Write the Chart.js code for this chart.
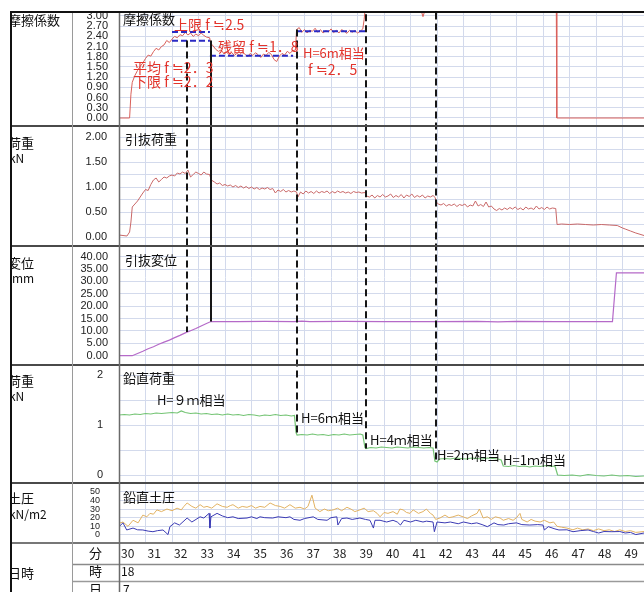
<!DOCTYPE html>
<html><head><meta charset="utf-8">
<script src="https://cdn.jsdelivr.net/npm/chart.js@4.4.1/dist/chart.umd.min.js"></script>
<style>
html,body{margin:0;padding:0;background:#fff;overflow:hidden;}
#wrap{position:relative;width:644px;height:592px;overflow:hidden;font-family:'Noto Sans CJK JP',sans-serif;color:#111;}
#c{position:absolute;left:0;top:0;}
.lbl{position:absolute;white-space:nowrap;font-size:13px;line-height:16px;}
.lat{font-size:12px;}
#col1{position:absolute;left:12px;top:12px;width:60px;height:580px;overflow:hidden;}
</style></head>
<body><div id="wrap"><canvas id="c" width="644" height="592"></canvas>
<div id="col1">
 <div class="lbl" style="left:-4px;top:0px">摩擦係数</div>
 <div class="lbl" style="left:-4px;top:123px">荷重</div>
 <div class="lbl lat" style="left:-3px;top:138px">kN</div>
 <div class="lbl" style="left:-4px;top:243px">変位</div>
 <div class="lbl lat" style="left:0px;top:258px">mm</div>
 <div class="lbl" style="left:-4px;top:361px">荷重</div>
 <div class="lbl lat" style="left:-3px;top:376px">kN</div>
 <div class="lbl" style="left:-4px;top:478px">土圧</div>
 <div class="lbl lat" style="left:-3px;top:494px">kN/m2</div>
 <div class="lbl" style="left:-4px;top:553px">日時</div>
</div>
<div class="lbl" style="left:89px;top:545px">分</div>
<div class="lbl" style="left:89px;top:563px">時</div>
<div class="lbl" style="left:89px;top:581px">日</div>
<div class="lbl lat" style="left:121px;top:563px">18</div>
<div class="lbl lat" style="left:123px;top:581px">7</div>
<div class="lbl" style="left:123px;top:11px">摩擦係数</div>
<div class="lbl" style="left:125px;top:131px">引抜荷重</div>
<div class="lbl" style="left:125px;top:252px">引抜変位</div>
<div class="lbl" style="left:123px;top:370px">鉛直荷重</div>
<div class="lbl" style="left:123px;top:489px">鉛直土圧</div>
</div>
<script>
// ---------- data (minute, value) ----------
const minuteLabels = [30,31,32,33,34,35,36,37,38,39,40,41,42,43,44,45,46,47,48,49];
const fricTicks = [0,0.3,0.6,0.9,1.2,1.5,1.8,2.1,2.4,2.7,3.0];
const loadTicks = [0,0.25,0.5,0.75,1,1.25,1.5,1.75,2];
const dispTicks = [0,5,10,15,20,25,30,35,40];
const vertTicks = [0,0.5,1,1.5,2];
const soilTicks = [0,10,20,30,40,50];

const friction = [[30.0,0],[30.4,0],[30.45,0.7],[30.5,1.05],[30.6,1.25],[30.7,1.4],[30.8,1.52],[30.9,1.62],[31.0,1.75],[31.1,1.85],[31.2,1.82],[31.3,1.95],[31.4,2.05],[31.5,2.0],[31.6,2.1],[31.7,2.15],[31.8,2.28],[31.9,2.22],[32.0,2.32],[32.1,2.4],[32.2,2.36],[32.3,2.45],[32.4,2.42],[32.5,2.52],[32.6,2.44],[32.7,2.5],[32.8,2.4],[32.9,2.47],[33.0,2.42],[33.1,2.5],[33.2,2.43],[33.3,2.38],[33.42,2.36],[33.46,2.2],[33.55,2.12],[33.65,2.02],[33.75,1.96],[33.85,2.0],[33.95,1.9],[34.05,1.95],[34.15,1.86],[34.25,1.93],[34.35,1.84],[34.45,1.9],[34.55,1.85],[34.65,1.95],[34.75,1.88],[34.85,1.8],[34.95,1.9],[35.05,1.84],[35.15,1.92],[35.25,1.86],[35.35,1.78],[35.45,1.88],[35.55,1.84],[35.65,1.93],[35.75,1.87],[35.85,1.72],[35.95,1.66],[36.05,1.82],[36.15,1.9],[36.25,1.85],[36.35,1.96],[36.45,1.9],[36.55,1.98],[36.66,2.0],[36.7,2.6],[36.8,2.66],[36.9,2.52],[37.0,2.6],[37.1,2.5],[37.2,2.58],[37.3,2.55],[37.4,2.64],[37.5,2.52],[37.6,2.6],[37.7,2.5],[37.8,2.57],[37.9,2.53],[38.0,2.62],[38.1,2.51],[38.2,2.58],[38.3,2.5],[38.4,2.6],[38.5,2.55],[38.6,2.49],[38.7,2.58],[38.8,2.52],[38.9,2.57],[39.0,2.5],[39.1,2.55],[39.2,2.62],[39.25,2.9],[39.3,3.3],[41.35,3.3],[41.47,2.98],[41.6,3.3],[46.5,3.3],[46.52,0],[49.81,0]];

const pullLoad = [[30.0,0.04],[30.3,0.02],[30.4,0.1],[30.45,0.3],[30.5,0.6],[30.6,0.66],[30.7,0.72],[30.8,0.8],[30.9,0.88],[31.0,0.95],[31.1,0.93],[31.2,1.05],[31.3,1.14],[31.4,1.18],[31.5,1.1],[31.6,1.15],[31.7,1.2],[31.8,1.18],[31.9,1.22],[32.0,1.24],[32.1,1.22],[32.2,1.28],[32.3,1.26],[32.4,1.3],[32.5,1.27],[32.6,1.34],[32.7,1.2],[32.8,1.25],[32.9,1.3],[33.0,1.27],[33.1,1.24],[33.2,1.3],[33.3,1.26],[33.42,1.25],[33.48,1.14],[33.6,1.1],[33.7,1.06],[33.8,1.08],[33.9,1.03],[34.0,1.05],[34.1,1.02],[34.2,1.04],[34.3,1.0],[34.4,1.03],[34.5,0.99],[34.6,1.02],[34.7,0.98],[34.8,1.01],[34.9,0.97],[35.0,1.0],[35.1,0.96],[35.2,0.99],[35.3,0.95],[35.4,0.98],[35.5,0.96],[35.6,0.99],[35.7,0.95],[35.8,0.97],[35.9,0.88],[36.0,0.94],[36.1,0.91],[36.2,0.95],[36.3,0.9],[36.4,0.93],[36.5,0.9],[36.6,0.92],[36.7,0.9],[36.75,0.8],[36.85,0.9],[36.95,0.86],[37.05,0.92],[37.15,0.88],[37.25,0.91],[37.35,0.87],[37.45,0.92],[37.55,0.88],[37.65,0.91],[37.75,0.89],[37.85,0.92],[37.95,0.87],[38.05,0.91],[38.15,0.88],[38.25,0.92],[38.35,0.89],[38.45,0.91],[38.55,0.88],[38.65,0.9],[38.75,0.87],[38.85,0.91],[38.95,0.89],[39.05,0.9],[39.15,0.88],[39.28,0.89],[39.34,0.82],[39.45,0.8],[39.55,0.84],[39.65,0.78],[39.75,0.83],[39.85,0.8],[39.95,0.85],[40.05,0.8],[40.15,0.82],[40.25,0.86],[40.35,0.79],[40.45,0.83],[40.55,0.8],[40.65,0.85],[40.75,0.78],[40.85,0.84],[40.95,0.81],[41.05,0.86],[41.15,0.79],[41.25,0.83],[41.35,0.8],[41.45,0.84],[41.55,0.78],[41.65,0.82],[41.75,0.8],[41.85,0.83],[41.93,0.79],[41.97,0.7],[42.05,0.66],[42.15,0.64],[42.25,0.67],[42.35,0.62],[42.45,0.65],[42.55,0.63],[42.65,0.66],[42.75,0.61],[42.85,0.65],[42.95,0.63],[43.05,0.66],[43.15,0.6],[43.25,0.64],[43.35,0.62],[43.45,0.72],[43.55,0.62],[43.65,0.65],[43.75,0.61],[43.85,0.7],[43.95,0.6],[44.05,0.62],[44.15,0.56],[44.25,0.53],[44.35,0.57],[44.45,0.54],[44.55,0.58],[44.65,0.55],[44.75,0.59],[44.85,0.56],[44.95,0.6],[45.05,0.55],[45.15,0.58],[45.25,0.54],[45.35,0.6],[45.45,0.56],[45.55,0.58],[45.65,0.55],[45.75,0.62],[45.85,0.56],[45.95,0.59],[46.05,0.55],[46.15,0.6],[46.25,0.56],[46.35,0.58],[46.48,0.57],[46.53,0.25],[46.7,0.26],[47.0,0.25],[47.3,0.26],[47.6,0.25],[47.9,0.24],[48.2,0.25],[48.5,0.24],[48.8,0.23],[49.0,0.18],[49.1,0.16],[49.3,0.12],[49.5,0.08],[49.81,0.03]];

const pullDisp = [[30.0,0],[30.5,0],[30.7,0.9],[30.9,1.8],[31.1,2.8],[31.3,3.6],[31.5,4.6],[31.7,5.5],[31.9,6.3],[32.1,7.3],[32.3,8.2],[32.5,9.2],[32.7,10.1],[32.9,11.0],[33.1,12.0],[33.3,13.0],[33.47,13.8],[34.5,13.8],[35.5,13.9],[36.6,13.8],[36.9,14.0],[37.2,13.8],[38.5,13.9],[40.0,13.8],[42.0,13.8],[43.5,13.9],[44.3,13.7],[45.0,13.9],[46.5,13.8],[48.62,13.8],[48.77,33.5],[49.81,33.5]];

const vertLoad = [[30.0,1.2],[30.2,1.21],[30.4,1.2],[30.6,1.22],[30.8,1.21],[31.0,1.23],[31.2,1.22],[31.4,1.24],[31.6,1.23],[31.8,1.24],[32.0,1.25],[32.2,1.24],[32.35,1.28],[32.5,1.25],[32.7,1.23],[32.9,1.24],[33.1,1.22],[33.3,1.23],[33.5,1.21],[33.7,1.22],[33.9,1.2],[34.1,1.22],[34.3,1.2],[34.5,1.21],[34.7,1.19],[34.9,1.21],[35.1,1.2],[35.3,1.18],[35.5,1.2],[35.7,1.19],[35.9,1.21],[36.1,1.19],[36.3,1.2],[36.5,1.18],[36.62,1.19],[36.68,0.85],[36.72,0.8],[36.9,0.81],[37.1,0.8],[37.3,0.82],[37.5,0.8],[37.7,0.81],[37.9,0.79],[38.1,0.81],[38.3,0.8],[38.5,0.82],[38.7,0.8],[38.9,0.81],[39.1,0.82],[39.2,0.8],[39.28,0.55],[39.32,0.53],[39.5,0.55],[39.7,0.54],[39.9,0.56],[40.1,0.55],[40.3,0.54],[40.5,0.56],[40.7,0.55],[40.9,0.54],[41.1,0.56],[41.3,0.55],[41.5,0.54],[41.7,0.55],[41.85,0.54],[41.92,0.28],[42.0,0.26],[42.1,0.32],[42.3,0.33],[42.5,0.32],[42.7,0.34],[42.9,0.33],[43.1,0.32],[43.3,0.34],[43.5,0.33],[43.7,0.32],[43.9,0.34],[44.1,0.33],[44.3,0.32],[44.42,0.3],[44.5,0.18],[44.7,0.17],[44.9,0.19],[45.1,0.17],[45.3,0.18],[45.5,0.16],[45.7,0.18],[45.9,0.17],[46.1,0.19],[46.3,0.17],[46.45,0.18],[46.55,0.0],[46.8,-0.01],[47.1,0.0],[47.4,-0.02],[47.7,0.01],[48.0,-0.01],[48.3,-0.02],[48.6,0.0],[48.9,-0.02],[49.2,-0.01],[49.5,-0.03],[49.81,-0.02]];

const soilA = [[30.0,13.5],[30.15,15],[30.34,10],[30.53,17],[30.72,14],[30.9,23],[31.05,21],[31.17,25],[31.3,24],[31.43,29],[31.6,27],[31.81,30],[32.0,28],[32.19,31],[32.35,29],[32.45,33],[32.57,37],[32.75,33],[32.9,31],[33.06,35],[33.2,32],[33.32,33],[33.5,31],[33.7,36],[33.9,33],[34.08,32],[34.2,34],[34.3,35],[34.5,31],[34.65,33],[34.83,32],[35.0,34],[35.15,31],[35.32,33],[35.5,32],[35.7,37],[35.9,34],[36.08,33],[36.25,31],[36.45,35],[36.65,31],[36.83,32],[37.0,30],[37.13,33],[37.28,46],[37.4,31],[37.58,27],[37.75,30],[37.9,28],[38.08,29],[38.25,31],[38.4,28],[38.6,32],[38.75,30],[38.9,27],[39.09,29],[39.25,31],[39.4,27],[39.6,28],[39.74,25],[39.85,21],[40.0,26],[40.15,25],[40.34,27],[40.5,24],[40.6,30],[40.72,29],[40.85,26],[40.98,25],[41.1,29],[41.3,25],[41.47,27],[41.6,30],[41.75,25],[41.85,23],[41.95,18],[42.11,19.6],[42.3,23],[42.45,20],[42.6,21],[42.8,23],[42.98,21],[43.15,19],[43.3,22],[43.51,25],[43.6,30],[43.74,19.6],[43.9,21],[44.05,18],[44.2,21],[44.38,19.6],[44.5,17],[44.7,19],[44.87,17],[45.0,20],[45.13,25],[45.2,18],[45.4,15],[45.55,18],[45.7,16],[45.89,15],[46.05,17],[46.26,14],[46.4,15],[46.53,10],[46.7,9],[46.9,8],[47.13,6],[47.3,8],[47.5,6],[47.7,7],[47.9,5],[48.1,7],[48.3,5],[48.5,6],[48.7,4],[48.9,6],[49.1,4],[49.3,5],[49.5,3],[49.81,4]];

const soilB = [[30.0,9.6],[30.15,14],[30.29,5.8],[30.53,8],[30.7,6],[30.9,5.8],[31.1,4.5],[31.28,3.8],[31.45,5],[31.66,5.8],[31.85,0.5],[31.92,9.6],[32.1,14],[32.28,11.5],[32.57,19.6],[32.75,15],[33.06,21],[33.2,19.6],[33.4,25],[33.43,8],[33.47,21],[33.7,25],[33.9,22],[34.1,20],[34.3,21],[34.5,19],[34.83,19.6],[35.0,21],[35.2,19],[35.32,21],[35.5,20],[35.8,19.6],[36.0,21],[36.3,20],[36.45,21],[36.6,18],[36.83,17],[37.0,19],[37.33,21],[37.5,18],[37.85,17],[38.0,20],[38.22,21],[38.26,11.5],[38.4,19],[38.6,19.6],[38.8,18],[39.09,19.6],[39.3,18],[39.47,17],[39.6,8],[39.66,17],[39.85,17],[40.1,15],[40.34,17],[40.5,15],[40.62,11.5],[40.75,17],[41.0,15],[41.2,17],[41.47,15],[41.6,16],[41.85,15],[41.9,3.8],[42.0,15],[42.3,14],[42.5,15],[42.8,13],[43.0,15],[43.3,13],[43.5,14],[43.7,12],[43.9,9.6],[44.15,14],[44.3,12],[44.52,11.5],[44.7,13],[45.0,14],[45.2,12],[45.5,11.5],[45.8,12],[46.0,11.5],[46.05,5.8],[46.2,9.6],[46.45,7],[46.6,5.8],[46.9,6],[47.13,3.8],[47.4,5],[47.7,5.8],[47.9,4],[48.1,2.3],[48.3,4],[48.6,3.8],[48.9,4],[49.1,2.3],[49.3,3],[49.5,0.5],[49.81,2.3]];

// blue guide levels in the friction panel
const guideUpper = [[32.0,2.53],[33.43,2.53]];
const guideMean = [[32.0,2.27],[33.43,2.27]];
const guideResidual = [[33.43,1.83],[36.57,1.83]];
const guideH6 = [[36.68,2.55],[39.32,2.55]];

// connector lines (minute, from axis/value, to axis/value)
const connectors = [
  {x:32.57, a1:'yFric', v1:2.28, a2:'yDisp', v2:9.6, dashed:true},
  {x:33.47, a1:'yFric', v1:2.28, a2:'yDisp', v2:13.8, dashed:false},
  {x:36.7, a1:'yFric', v1:2.6, a2:'yVert', v2:0.78, dashed:true},
  {x:39.32, a1:'yFric', v1:3.05, a2:'yVert', v2:0.53, dashed:true},
  {x:41.95, a1:'yFric', v1:3.1, a2:'yVert', v2:0.27, dashed:true}
];

const RED = '#e3342c';
const notes = [
  {axis:'yFric', x:32.08, y:2.74, text:'上限 f ≒2.5', color:RED, size:14},
  {axis:'yFric', x:33.74, y:2.09, text:'残留 f ≒1．8', color:RED, size:14},
  {axis:'yFric', x:30.53, y:1.47, text:'平均 f ≒2．3', color:RED, size:14},
  {axis:'yFric', x:30.53, y:1.06, text:'下限 f ≒2．2', color:RED, size:14},
  {axis:'yFric', x:36.94, y:1.91, text:'H=6m相当', color:RED, size:13},
  {axis:'yFric', x:37.13, y:1.41, text:'f ≒2．5', color:RED, size:14},
  {axis:'yVert', x:31.43, y:1.5, text:'H=９ｍ相当', color:'#111', size:13},
  {axis:'yVert', x:36.87, y:1.14, text:'H=6ｍ相当', color:'#111', size:13},
  {axis:'yVert', x:39.47, y:0.7, text:'H=4ｍ相当', color:'#111', size:13},
  {axis:'yVert', x:42.0, y:0.4, text:'H=2ｍ相当', color:'#111', size:13},
  {axis:'yVert', x:44.49, y:0.3, text:'H=1ｍ相当', color:'#111', size:13}
];

// ---------- chart ----------
const GRID = '#d3daec';
const NUM = "'Liberation Sans', Arial, sans-serif";
const NARROW = "'Liberation Sans Narrow', 'Liberation Sans', sans-serif";
const pts = arr => arr.map(p => ({x:p[0], y:p[1]}));

function yAxis(weight, h, min, max, ticks, fmt, font, pad) {
  return {
    type:'linear', position:'left', stack:'panels', stackWeight:h, weight:weight,
    min:min, max:max, border:{display:false},
    grid:{color:GRID, drawTicks:false, lineWidth:1},
    afterBuildTicks: s => { s.ticks = ticks.map(v => ({value:v})); },
    afterFit: s => { s.width = 119; s.paddingTop = 0; s.paddingBottom = 0; },
    ticks:{autoSkip:false, padding:pad, color:'#222', font:font, callback: fmt}
  };
}

function line(data, axis, color, width, dash) {
  return {data: pts(data), yAxisID: axis, borderColor: color, borderWidth: width || 1,
    borderDash: dash || [], pointRadius: 0, tension: 0, fill: false};
}

const frame = {
  id:'frame',
  afterDatasetsDraw(chart) {
    const ctx = chart.ctx, s = chart.scales, xs = s.x;
    ctx.save();
    ctx.strokeStyle = '#161616'; ctx.lineWidth = 2;
    connectors.forEach(c => {
      ctx.setLineDash(c.dashed ? [7,4] : []);
      const px = Math.round(xs.getPixelForValue(c.x));
      ctx.beginPath();
      ctx.moveTo(px, s[c.a1].getPixelForValue(c.v1));
      ctx.lineTo(px, s[c.a2].getPixelForValue(c.v2));
      ctx.stroke();
    });
    ctx.setLineDash([]);
    ctx.textAlign = 'left'; ctx.textBaseline = 'middle';
    notes.forEach(n => {
      ctx.font = n.size + "px 'Noto Sans CJK JP', sans-serif";
      ctx.fillStyle = n.color;
      ctx.fillText(n.text, xs.getPixelForValue(n.x), s[n.axis].getPixelForValue(n.y));
    });
    ctx.restore();
  },
  afterDraw(chart) {
    const ctx = chart.ctx, a = chart.chartArea, s = chart.scales, W = chart.width, H = chart.height;
    ctx.save();
    const hl = (y, x0, col, w) => { ctx.strokeStyle = col; ctx.lineWidth = w; ctx.beginPath(); ctx.moveTo(x0, y); ctx.lineTo(W, y); ctx.stroke(); };
    const vl = (x, y0, col, w) => { ctx.strokeStyle = col; ctx.lineWidth = w; ctx.beginPath(); ctx.moveTo(x, y0); ctx.lineTo(x, H); ctx.stroke(); };
    ['yFric','yLoad','yDisp','yVert'].forEach(id => hl(Math.round(s[id].bottom), 11, '#4a4a4a', 2));
    hl(Math.round(a.bottom), 11, '#777', 2);
    hl(564.5, 72, '#8a8a8a', 1.5);
    hl(581.5, 72, '#9a9a9a', 1.5);
    vl(72.5, a.top, '#9a9a9a', 1);
    vl(a.left + 0.5, a.top, '#6a6a6a', 1.5);
    vl(11, a.top - 1, '#111', 2);
    hl(a.top, 10, '#111', 2);
    ctx.restore();
  }
};

new Chart(document.getElementById('c'), {
  type:'line',
  data:{datasets:[
    line(guideUpper, 'yFric', '#2a2ac4', 2, [6,3]),
    line(guideMean, 'yFric', '#2a2ac4', 2, [6,3]),
    line(guideResidual, 'yFric', '#2a2ac4', 2, [6,3]),
    line(guideH6, 'yFric', '#2a2ac4', 2, [6,3]),
    line(friction, 'yFric', '#d9605a', 1),
    line(pullLoad, 'yLoad', '#c96868', 1),
    line(pullDisp, 'yDisp', '#b56ac8', 1.2),
    line(vertLoad, 'yVert', '#74c474', 1.2),
    line(soilB, 'ySoil', '#3a3ab4', 1),
    line(soilA, 'ySoil', '#e2b262', 1)
  ]},
  options:{
    responsive:false, animation:false, devicePixelRatio:1,
    layout:{padding:{top:12, left:0, right:0, bottom:0}},
    plugins:{legend:{display:false}, tooltip:{enabled:false}},
    scales:{
      x:{type:'linear', position:'bottom', min:30, max:49.81, border:{display:false},
        grid:{color:GRID, drawTicks:false, lineWidth:1},
        afterBuildTicks: s => { s.ticks = minuteLabels.map(v => ({value:v})); },
        afterFit: s => { s.height = 49; s.paddingLeft = 0; s.paddingRight = 0; },
        ticks:{autoSkip:false, maxRotation:0, align:'start', labelOffset:2, padding:3, color:'#222',
          font:{size:12, family:"'Noto Sans CJK JP', sans-serif"}, callback: v => String(v)}},
      yFric: yAxis(5, 114, -0.2353, 3.1176, fricTicks, v => v.toFixed(2), {size:11, family:NARROW}, 11),
      yLoad: yAxis(4, 120, -0.18, 2.22, loadTicks, v => (Math.round(v*100) % 50 === 0 ? v.toFixed(2) : ''), {size:11, family:NUM}, 12),
      yDisp: yAxis(3, 119, -3.76, 44.32, dispTicks, v => v.toFixed(2), {size:11, family:NUM}, 11),
      yVert: yAxis(2, 118, -0.16, 2.2, vertTicks, v => (Number.isInteger(v) ? String(v) : ''), {size:11, family:NUM}, 16),
      ySoil: yAxis(1, 60, -9.24, 60.04, soilTicks, v => String(v), {size:9, family:NARROW}, 19)
    }
  },
  plugins:[frame]
});
</script>
</body></html>
